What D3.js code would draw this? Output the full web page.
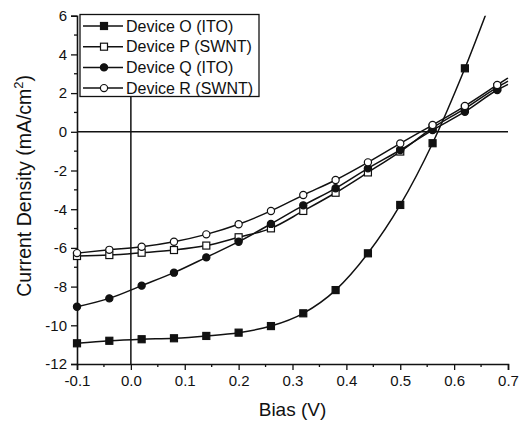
<!DOCTYPE html>
<html>
<head>
<meta charset="utf-8">
<script src="https://cdnjs.cloudflare.com/ajax/libs/d3/7.8.5/d3.min.js"></script>
<style>
     body { margin: 0; background: #fff; }
     text { font-family: "Liberation Sans", Arial, sans-serif; fill: #111; }
</style>
</head>
<body>
<div id="chart"></div>
<script>
// bias points (V), the last one is the trace end without a marker
let bias = [-0.1, -0.04, 0.02, 0.08, 0.14, 0.2, 0.26, 0.32, 0.38, 0.44, 0.5, 0.56, 0.62, 0.68, 0.7];

let deviceO = [-10.93, -10.8, -10.72, -10.67, -10.55, -10.38, -10.04, -9.38, -8.18, -6.28, -3.78, -0.59, 3.28, 7.6, 9.0];
let deviceP = [-6.42, -6.37, -6.25, -6.11, -5.88, -5.45, -4.99, -4.09, -3.15, -2.1, -1.02, 0.2, 1.2, 2.3, 2.62];
let deviceQ = [-9.04, -8.61, -7.95, -7.28, -6.49, -5.68, -4.76, -3.8, -2.92, -1.89, -0.94, 0.09, 1.04, 2.16, 2.45];
let deviceR = [-6.27, -6.1, -5.94, -5.68, -5.3, -4.78, -4.09, -3.27, -2.49, -1.58, -0.6, 0.35, 1.33, 2.42, 2.78];

let seriesNames = ["Device O (ITO)", "Device P (SWNT)", "Device Q (ITO)", "Device R (SWNT)"];
let markerKinds = ["square-filled", "square-open", "circle-filled", "circle-open"];

let xTicks = [-0.1, 0.0, 0.1, 0.2, 0.3, 0.4, 0.5, 0.6, 0.7];
let yTicks = [-12, -10, -8, -6, -4, -2, 0, 2, 4, 6];

let width = 522;
let height = 424;
let margin = { left: 77, right: 14, top: 15.7, bottom: 60 };

let x = d3.scaleLinear()
     .domain([-0.1, 0.7])
     .range([margin.left, width - margin.right]);

let y = d3.scaleLinear()
     .domain([-12, 6])
     .range([height - margin.bottom, margin.top]);

let svg = d3.select("#chart").append("svg")
     .attr("width", width)
     .attr("height", height);

svg.append("defs").append("clipPath")
     .attr("id", "plot-clip")
     .append("rect")
     .attr("x", x(-0.1) - 5)
     .attr("y", y(6))
     .attr("width", x(0.7) - x(-0.1) + 10)
     .attr("height", y(-12) - y(6));

// zero lines
svg.append("line")
     .attr("x1", x(-0.1)).attr("x2", x(0.7))
     .attr("y1", y(0)).attr("y2", y(0))
     .attr("stroke", "#111").attr("stroke-width", 1.5);

svg.append("line")
     .attr("x1", x(0)).attr("x2", x(0))
     .attr("y1", y(-12)).attr("y2", y(6))
     .attr("stroke", "#111").attr("stroke-width", 1.5);

// axes (plain hyphen for negatives, like the original)
let xAxis = d3.axisBottom(x)
     .tickValues(xTicks)
     .tickSize(6)
     .tickPadding(5)
     .tickFormat(function(d) { return d.toFixed(1); });

let yAxis = d3.axisLeft(y)
     .tickValues(yTicks)
     .tickSize(6)
     .tickPadding(4)
     .tickFormat(function(d) { return String(d); });

let gx = svg.append("g")
     .attr("transform", "translate(0," + y(-12) + ")")
     .call(xAxis);

let gy = svg.append("g")
     .attr("transform", "translate(" + x(-0.1) + ",0)")
     .call(yAxis);

// minor ticks
gx.selectAll(".minor")
     .data(d3.range(-0.05, 0.7, 0.1))
     .enter().append("line")
     .attr("x1", function(d) { return x(d); })
     .attr("x2", function(d) { return x(d); })
     .attr("y1", 0).attr("y2", 3)
     .attr("stroke", "#111").attr("stroke-width", 1.3);

gy.selectAll(".minor")
     .data(d3.range(-11, 6, 2))
     .enter().append("line")
     .attr("y1", function(d) { return y(d); })
     .attr("y2", function(d) { return y(d); })
     .attr("x1", 0).attr("x2", -3)
     .attr("stroke", "#111").attr("stroke-width", 1.3);

[gx, gy].forEach(function(g) {
     g.select(".domain").attr("stroke", "#111").attr("stroke-width", 1.6);
     g.selectAll(".tick line").attr("stroke", "#111").attr("stroke-width", 1.3);
     g.selectAll(".tick text")
          .style("font-family", "'Liberation Sans', Arial, sans-serif")
          .style("font-size", "15px")
          .attr("fill", "#111");
});

// axis titles
svg.append("text")
     .attr("x", (x(-0.1) + x(0.7)) / 2)
     .attr("y", 416)
     .attr("text-anchor", "middle")
     .style("font-size", "19px")
     .text("Bias (V)");

let yTitle = svg.append("text")
     .attr("transform", "translate(31," + ((y(-12) + y(6)) / 2 - 4) + ") rotate(-90)")
     .attr("text-anchor", "middle")
     .style("font-size", "19.5px");
yTitle.append("tspan").text("Current Density (mA/cm");
yTitle.append("tspan").attr("dy", -8).style("font-size", "13px").text("2");
yTitle.append("tspan").attr("dy", 8).text(")");

// curves
let allSeries = [deviceO, deviceP, deviceQ, deviceR].map(function(vals, i) {
     return {
          name: seriesNames[i],
          kind: markerKinds[i],
          points: vals.map(function(v, j) { return { x: bias[j], y: v }; })
     };
});

let line = d3.line()
     .x(function(d) { return x(d.x); })
     .y(function(d) { return y(d.y); })
     .curve(d3.curveMonotoneX);

svg.append("g")
     .attr("clip-path", "url(#plot-clip)")
     .selectAll("path")
     .data(allSeries)
     .enter().append("path")
     .attr("d", function(d) { return line(d.points); })
     .attr("fill", "none")
     .attr("stroke", "#111")
     .attr("stroke-width", 1.5);

function drawMarker(sel, kind) {
     let filled = kind.indexOf("filled") >= 0;
     if (kind.indexOf("square") === 0) {
          sel.append("rect")
               .attr("x", -3.5).attr("y", -3.5)
               .attr("width", 7).attr("height", 7)
               .attr("fill", filled ? "#111" : "#fff")
               .attr("stroke", "#111").attr("stroke-width", 1.2);
     } else {
          sel.append("circle")
               .attr("r", 3.6)
               .attr("fill", filled ? "#111" : "#fff")
               .attr("stroke", "#111").attr("stroke-width", 1.2);
     }
}

allSeries.forEach(function(s) {
     svg.append("g")
          .selectAll("g")
          .data(s.points.slice(0, -1).filter(function(p) { return p.y <= 6; }))
          .enter().append("g")
          .attr("transform", function(d) { return "translate(" + x(d.x) + "," + y(d.y) + ")"; })
          .each(function() { drawMarker(d3.select(this), s.kind); });
});

// legend
let legend = svg.append("g").attr("transform", "translate(80,14.5)");

legend.append("rect")
     .attr("width", 179).attr("height", 82)
     .attr("fill", "#fff")
     .attr("stroke", "#111").attr("stroke-width", 1.3);

let item = legend.selectAll(".item")
     .data(allSeries)
     .enter().append("g")
     .attr("transform", function(d, i) { return "translate(0," + (11.5 + i * 20.7) + ")"; });

item.append("line")
     .attr("x1", 3).attr("x2", 43)
     .attr("stroke", "#111").attr("stroke-width", 1.5);

item.append("g")
     .attr("transform", "translate(24,0)")
     .each(function(d) { drawMarker(d3.select(this), d.kind); });

item.append("text")
     .attr("x", 46)
     .attr("dy", "0.36em")
     .style("font-size", "16px")
     .text(function(d) { return d.name; });
</script>
</body>
</html>
